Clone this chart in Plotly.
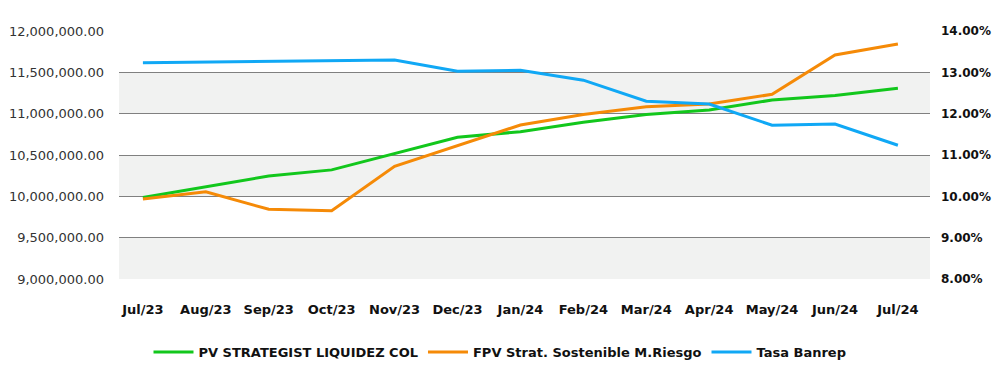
import plotly.graph_objects as go

months = ["Jul/23", "Aug/23", "Sep/23", "Oct/23", "Nov/23", "Dec/23", "Jan/24",
          "Feb/24", "Mar/24", "Apr/24", "May/24", "Jun/24", "Jul/24"]
pv_strategist = [9985000, 10117000, 10246000, 10320000, 10520000, 10714000, 10782000,
                 10895000, 10990000, 11044000, 11165000, 11220000, 11307000]
fpv_sostenible = [9968000, 10056000, 9843000, 9826000, 10363000, 10612000, 10863000,
                  10990000, 11084000, 11117000, 11234000, 11710000, 11843000]
tasa_banrep = [13.234, 13.25, 13.266, 13.28, 13.30, 13.025, 13.05,
               12.81, 12.30, 12.234, 11.72, 11.75, 11.235]

left_ticks = [9000000, 9500000, 10000000, 10500000, 11000000, 11500000, 12000000]
right_ticks = [8, 9, 10, 11, 12, 13, 14]

fig = go.Figure()
fig.add_trace(go.Scatter(x=months, y=pv_strategist, name="PV STRATEGIST LIQUIDEZ COL",
                         mode="lines", line=dict(color="#12c71c", width=3)))
fig.add_trace(go.Scatter(x=months, y=fpv_sostenible, name="FPV Strat. Sostenible M.Riesgo",
                         mode="lines", line=dict(color="#f58a07", width=3)))
fig.add_trace(go.Scatter(x=months, y=tasa_banrep, name="Tasa Banrep", yaxis="y2",
                         mode="lines", line=dict(color="#10a8f5", width=3)))

shapes = []
for i in range(0, len(left_ticks) - 1, 2):
    shapes.append(dict(type="rect", xref="paper", yref="y", x0=0, x1=1,
                       y0=left_ticks[i], y1=left_ticks[i + 1],
                       fillcolor="#f1f2f1", line=dict(width=0), layer="below"))

W, H = 984, 358
fig.update_layout(
    width=W, height=H,
    margin=dict(l=111, r=62, t=23, b=87, autoexpand=False),
    paper_bgcolor="white", plot_bgcolor="white",
    shapes=shapes,
    showlegend=True,
    legend=dict(orientation="h", xref="container", yref="container",
                x=0.5, xanchor="center", y=14 / H, yanchor="middle",
                font=dict(family="DejaVu Sans", size=13, color="#111111", weight="bold"),
                itemwidth=40, traceorder="normal"),
    xaxis=dict(type="category", range=[-0.38, 12.51], showgrid=False, zeroline=False,
               showline=False, ticks="", automargin=False,
               tickfont=dict(family="DejaVu Sans", size=13, color="#111111", weight="bold"),
               ticklabelstandoff=21),
    yaxis=dict(range=[9000000, 12000000], tickvals=left_ticks,
               ticktext=[f"{v:,.2f}" for v in left_ticks], automargin=False,
               showgrid=True, gridcolor="#808080", gridwidth=1.3, zeroline=False,
               tickfont=dict(family="DejaVu Sans", size=13, color="#333333"),
               ticklabelstandoff=14, ticks=""),
    yaxis2=dict(overlaying="y", side="right", range=[8, 14], tickvals=right_ticks,
                ticktext=[f"{v:.2f}%" for v in right_ticks], showgrid=False, zeroline=False,
                automargin=False,
                tickfont=dict(family="DejaVu Sans", size=12, color="#111111", weight="bold"),
                ticklabelstandoff=10, ticks=""),
)
fig.write_html("out.html")
